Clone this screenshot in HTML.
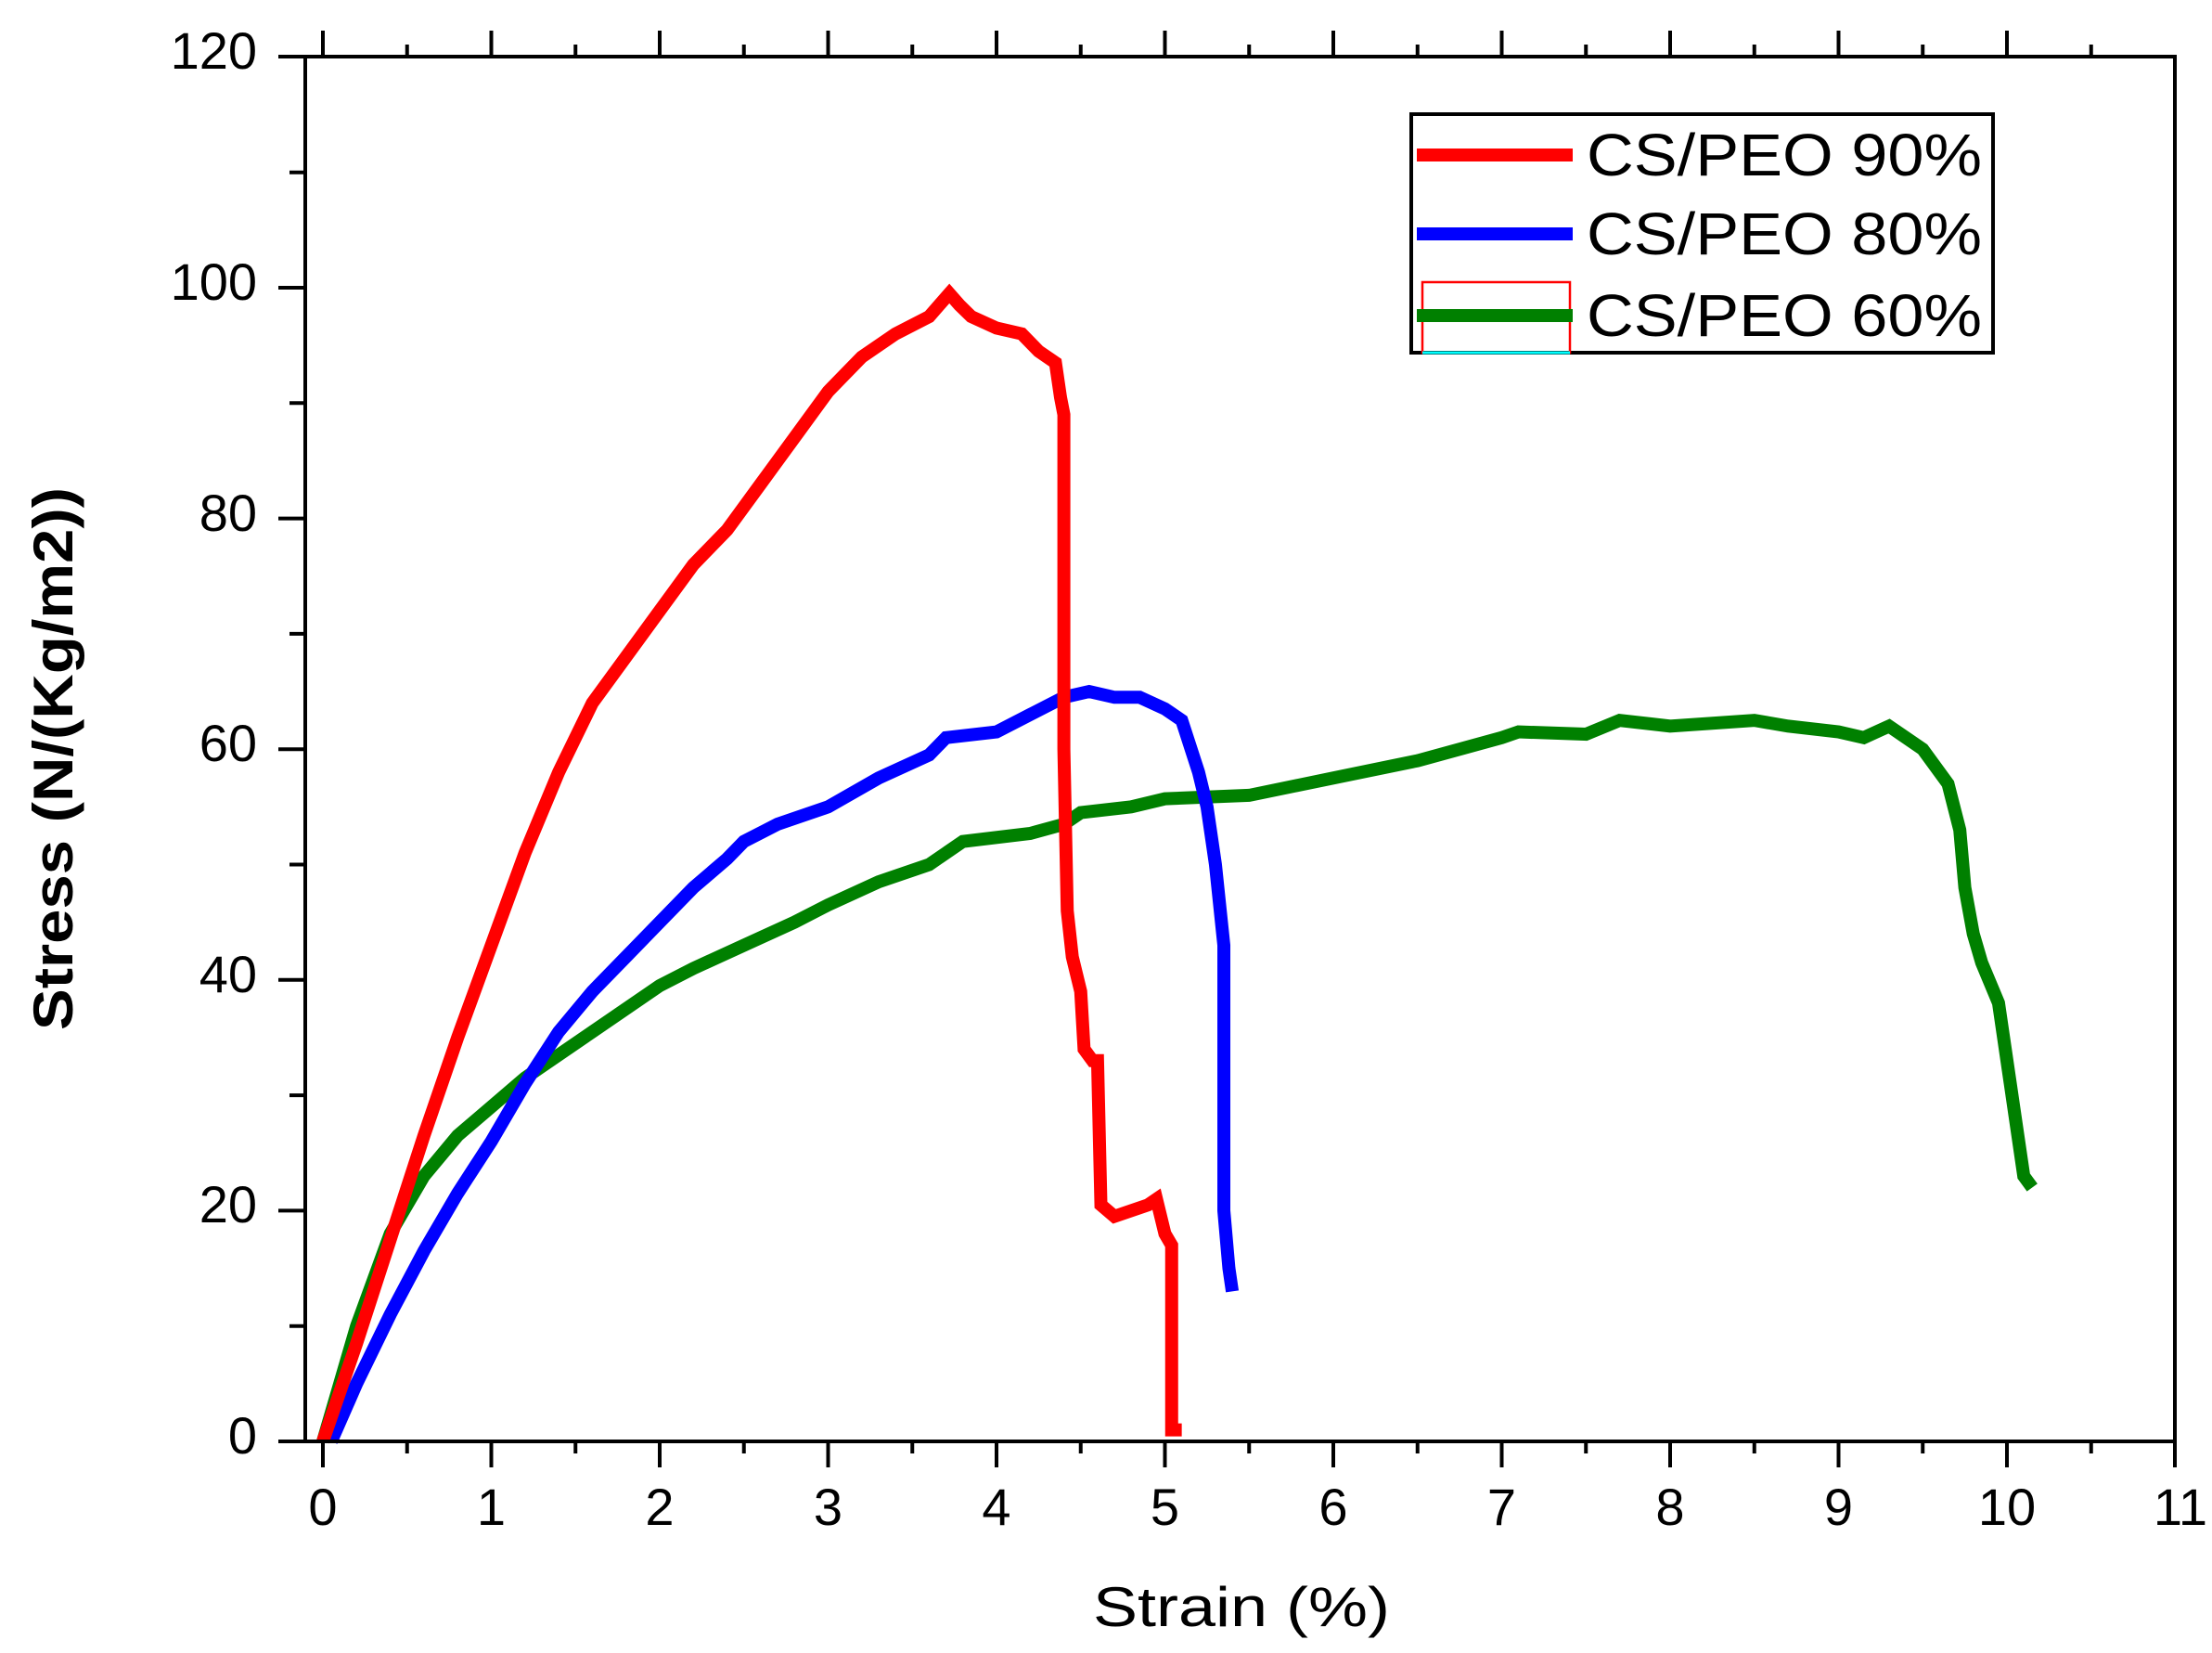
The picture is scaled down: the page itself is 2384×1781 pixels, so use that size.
<!DOCTYPE html>
<html><head><meta charset="utf-8"><style>
html,body{margin:0;padding:0;background:#fff;}
svg{display:block;}
text{font-family:"Liberation Sans",sans-serif;fill:#000;}
</style></head><body>
<svg width="2384" height="1781" viewBox="0 0 2384 1781" xmlns="http://www.w3.org/2000/svg">
<rect width="2384" height="1781" fill="#fff"/>
<g transform="translate(348,1553) scale(181.5,-12.43)" fill="none" stroke-linejoin="miter" stroke-linecap="butt">
<polyline vector-effect="non-scaling-stroke" stroke="#008000" stroke-width="14" points="0,0 0.2,10 0.4,18 0.6,23 0.8,26.5 1,29 1.2,31.5 1.4,33.5 1.6,35.5 1.8,37.5 2,39.5 2.2,41 2.5,43 2.8,45 3,46.5 3.3,48.5 3.6,50 3.8,52 4.2,52.7 4.4,53.5 4.5,54.5 4.8,55 5,55.7 5.5,56 6,57.5 6.5,59 7,61 7.1,61.5 7.5,61.3 7.7,62.5 8,62 8.5,62.5 8.7,62 9,61.5 9.15,61 9.3,62 9.5,60 9.65,57 9.72,53 9.75,48 9.8,44 9.85,41.5 9.95,38 10,33 10.05,28 10.1,23 10.15,22"/>
<polyline vector-effect="non-scaling-stroke" stroke="#0000ff" stroke-width="14" points="0.05,0 0.2,5 0.4,11 0.6,16.5 0.8,21.5 1,26 1.2,31 1.4,35.5 1.6,39 1.8,42 2,45 2.2,48 2.4,50.5 2.5,52 2.7,53.5 3,55 3.3,57.5 3.6,59.5 3.7,61 4,61.5 4.2,63 4.4,64.5 4.55,65 4.7,64.5 4.85,64.5 5,63.5 5.1,62.5 5.2,58 5.25,55 5.3,50 5.35,43 5.35,20 5.38,15 5.4,13"/>
<polyline vector-effect="non-scaling-stroke" stroke="#ff0000" stroke-width="14" points="0,0 0.2,8.5 0.4,17.5 0.6,26.5 0.8,35 1,43 1.2,51 1.4,58 1.6,64 1.8,68 2,72 2.2,76 2.4,79 2.6,83 2.8,87 3,91 3.2,94 3.4,96 3.6,97.5 3.72,99.5 3.78,98.5 3.85,97.5 4,96.5 4.15,96 4.25,94.5 4.35,93.5 4.38,90.5 4.4,89 4.4,60 4.42,46 4.45,42 4.5,39 4.52,34 4.57,33 4.6,33 4.62,20.5 4.7,19.5 4.9,20.5 4.95,21 5.0,18 5.04,17 5.04,1 5.1,1"/>
</g>
<g stroke="#000" stroke-width="4" fill="none">
<line x1="300" y1="61" x2="2346" y2="61"/>
<line x1="300" y1="1553" x2="2346" y2="1553"/>
<line x1="329" y1="59" x2="329" y2="1555"/>
<line x1="2344" y1="59" x2="2344" y2="1555"/>
<path d="M348,1553v28 M529.5,1553v28 M711,1553v28 M892.5,1553v28 M1074,1553v28 M1255.5,1553v28 M1437,1553v28 M1618.5,1553v28 M1800,1553v28 M1981.5,1553v28 M2163,1553v28 M2344,1553v28"/>
<path d="M438.75,1553v13 M620.25,1553v13 M801.75,1553v13 M983.25,1553v13 M1164.75,1553v13 M1346.25,1553v13 M1527.75,1553v13 M1709.25,1553v13 M1890.75,1553v13 M2072.25,1553v13 M2253.75,1553v13"/>
<path d="M348,61v-28 M529.5,61v-28 M711,61v-28 M892.5,61v-28 M1074,61v-28 M1255.5,61v-28 M1437,61v-28 M1618.5,61v-28 M1800,61v-28 M1981.5,61v-28 M2163,61v-28"/>
<path d="M438.75,61v-13 M620.25,61v-13 M801.75,61v-13 M983.25,61v-13 M1164.75,61v-13 M1346.25,61v-13 M1527.75,61v-13 M1709.25,61v-13 M1890.75,61v-13 M2072.25,61v-13 M2253.75,61v-13"/>
<path d="M329,1553h-29 M329,1304.4h-29 M329,1055.8h-29 M329,807.2h-29 M329,558.6h-29 M329,310h-29"/>
<path d="M329,1428.7h-17 M329,1180.1h-17 M329,931.5h-17 M329,682.9h-17 M329,434.3h-17 M329,185.7h-17"/>
</g>
<g font-size="56" text-anchor="end">
<text x="277" y="1566">0</text>
<text x="277" y="1317">20</text>
<text x="277" y="1069">40</text>
<text x="277" y="820">60</text>
<text x="277" y="572">80</text>
<text x="277" y="323">100</text>
<text x="277" y="74">120</text>
</g>
<g font-size="56" text-anchor="middle">
<text x="348" y="1643">0</text>
<text x="529.5" y="1643">1</text>
<text x="711" y="1643">2</text>
<text x="892.5" y="1643">3</text>
<text x="1074" y="1643">4</text>
<text x="1255.5" y="1643">5</text>
<text x="1437" y="1643">6</text>
<text x="1618.5" y="1643">7</text>
<text x="1800" y="1643">8</text>
<text x="1981.5" y="1643">9</text>
<text x="2163" y="1643">10</text>
<text x="2350" y="1643">11</text>
</g>
<text x="1178" y="1752" font-size="60" textLength="320" lengthAdjust="spacingAndGlyphs">Strain (%)</text>
<text transform="translate(78,1110) rotate(-90)" font-size="60" font-weight="bold" textLength="585" lengthAdjust="spacingAndGlyphs">Stress (N/(Kg/m2))</text>
<rect x="1521" y="123" width="627" height="257" fill="#fff" stroke="#000" stroke-width="4"/>
<rect x="1533" y="304" width="159" height="76" fill="none" stroke="#ff0000" stroke-width="2.5"/>
<line x1="1533" y1="380" x2="1692" y2="380" stroke="#00ffff" stroke-width="3"/>
<line x1="1527" y1="167" x2="1695" y2="167" stroke="#ff0000" stroke-width="14"/>
<line x1="1527" y1="252" x2="1695" y2="252" stroke="#0000ff" stroke-width="14"/>
<line x1="1527" y1="340" x2="1695" y2="340" stroke="#008000" stroke-width="14"/>
<g font-size="64">
<text x="1710" y="189" textLength="426" lengthAdjust="spacingAndGlyphs">CS/PEO 90%</text>
<text x="1710" y="274" textLength="426" lengthAdjust="spacingAndGlyphs">CS/PEO 80%</text>
<text x="1710" y="362" textLength="426" lengthAdjust="spacingAndGlyphs">CS/PEO 60%</text>
</g>
</svg>
</body></html>
